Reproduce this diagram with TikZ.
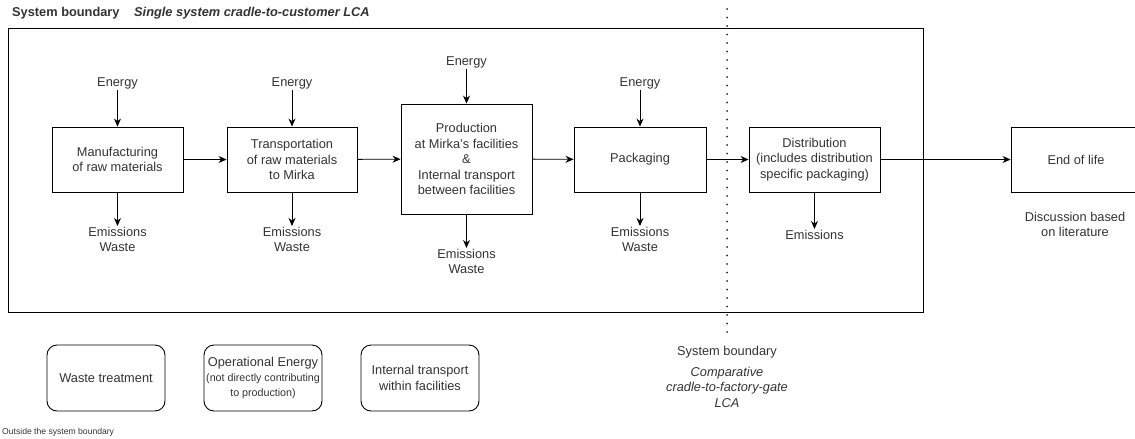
\documentclass[tikz,border=0pt]{standalone}
\usepackage{fontspec}
\setmainfont{Liberation Sans}
\usetikzlibrary{arrows.meta}
\definecolor{txt}{HTML}{333333}
\tikzset{
  every node/.style={text=txt, font=\fontsize{12.8}{15.5}\selectfont},
  procbox/.style={draw=black, line width=0.9pt, rectangle, minimum height=65pt, align=center, inner sep=2pt},
  outbox/.style={draw=black, line width=0.9pt, rectangle, rounded corners=10pt, minimum width=118pt, minimum height=66pt, align=center, inner sep=2pt},
  lbl/.style={align=center, inner sep=1pt},
  flow/.style={draw=black, line width=0.9pt, -{Stealth[length=8pt,width=7pt]}},
  dotline/.style={draw=black!85, line width=2pt, line cap=round, dash pattern=on 0pt off 8.5pt}
}
\begin{document}
\begin{tikzpicture}[x=1pt,y=-1pt]
\useasboundingbox (0,0) rectangle (1135,439);
% outer boundary
\draw[line width=1pt] (8,28) rectangle (923,312);
% title
\node[anchor=west, inner sep=0pt, font=\bfseries\fontsize{12.8}{15}\selectfont] (t1) at (12,13) {System boundary};
\node[anchor=west, inner sep=0pt, font=\bfseries\itshape\fontsize{12.8}{15}\selectfont] (t2) at (134,13) {Single system cradle-to-customer LCA};
% dotted boundary
\coordinate (dtop) at (727,9);
\coordinate (dbot) at (727,333);
\draw[dotline] (dtop) -- (dbot);
% process boxes
\node[procbox, minimum width=131pt] (m1) at (117.5,159.5) {Manufacturing\\of raw materials};
\node[procbox, minimum width=130pt] (m2) at (292,159.5) {Transportation\\of raw materials\\to Mirka};
\node[procbox, minimum width=131pt, minimum height=110pt] (m3) at (466.5,159) {Production\\at Mirka's facilities\\\&\\Internal transport\\between facilities};
\node[procbox, minimum width=132pt] (m4) at (640,159.5) {Packaging};
\node[procbox, minimum width=131pt] (m5) at (814.5,159.5) {Distribution\\(includes distribution\\specific packaging)};
\node[procbox, minimum width=130pt] (m6) at (1076,159.5) {End of life};
% energy inputs
\node[lbl] (e1) at (117.5,83) {Energy};
\node[lbl] (e2) at (292,83) {Energy};
\node[lbl] (e3) at (466.5,62) {Energy};
\node[lbl] (e4) at (640,83) {Energy};
% outputs
\node[lbl, anchor=north] (o1) at (117.5,226) {Emissions\\Waste};
\node[lbl, anchor=north] (o2) at (292,226) {Emissions\\Waste};
\node[lbl, anchor=north] (o3) at (466.5,248) {Emissions\\Waste};
\node[lbl, anchor=north] (o4) at (640,226) {Emissions\\Waste};
\node[lbl, anchor=north] (o5) at (814.5,229) {Emissions};
\node[lbl] (disc) at (1075,224.5) {Discussion based\\on literature};
% arrows
\draw[flow] (e1) -- (m1);
\draw[flow] (e2) -- (m2);
\draw[flow] (e3) -- (m3);
\draw[flow] (e4) -- (m4);
\draw[flow] (m1) -- (o1);
\draw[flow] (m2) -- (o2);
\draw[flow] (m3) -- (o3);
\draw[flow] (m4) -- (o4);
\draw[flow] (m5) -- (o5);
\draw[flow] (m1) -- (m2);
\draw[flow] (m2) -- (m3);
\draw[flow] (m3) -- (m4);
\draw[flow] (m4) -- (m5);
\draw[flow] (m5) -- (m6);
% outside boxes
\node[outbox] (b1) at (106,378) {Waste treatment};
\node[outbox] (b2) at (263,378) {Operational Energy\\[-1pt]{\fontsize{10.7}{18}\selectfont (not directly contributing}\\{\fontsize{10.7}{12}\selectfont to production)}};
\node[outbox] (b3) at (420,378) {Internal transport\\within facilities};
\node[anchor=west, inner sep=0pt, font=\fontsize{8.6}{11}\selectfont] (outside) at (2,432) {Outside the system boundary};
% second system boundary label
\node[lbl] (sb2) at (727,352) {System boundary};
\node[lbl, font=\itshape\fontsize{12.8}{15.5}\selectfont] (sb2b) at (727,387) {Comparative\\cradle-to-factory-gate\\LCA};
\end{tikzpicture}
\end{document}
